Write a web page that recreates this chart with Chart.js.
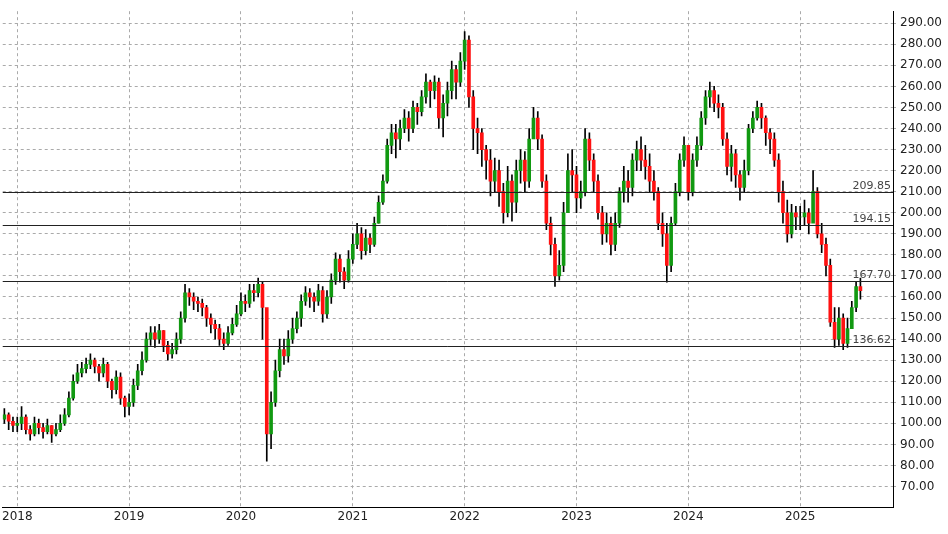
<!DOCTYPE html>
<html>
<head>
<meta charset="utf-8">
<script src="https://cdn.jsdelivr.net/npm/chart.js@4/dist/chart.umd.min.js"></script>
<style>
  html, body { margin: 0; padding: 0; background: #fff; }
  #wrap { width: 948px; height: 534px; }
</style>
</head>
<body>
<div id="wrap"><canvas id="chart"></canvas></div>
<script>
// biweekly candles, open = previous close
const startYear = 2017;
const startIndex = 23; // first candle sits late in 2017
const firstOpen = 102;

const closes = [
  104, 101, 99,
  100, 103, 97, 95, 100, 98, 96, 99, 95, 97, 100, 104, 112, 120, 124, 126, 128, 130, 127, 124, 128, 120, 116, 122, 112, 108,
  110, 118, 125, 130, 140, 143, 140, 144, 137, 133, 135, 140, 150, 162, 160, 158, 157, 155, 150, 147, 145, 140, 138, 143, 147, 152,
  158, 157, 163, 162, 166, 155, 95, 110, 125, 135, 132, 140, 145, 150, 158, 162, 160, 158, 163, 152, 160, 168, 178, 172, 168, 178,
  185, 190, 182, 188, 185, 195, 205, 215, 232, 238, 235, 240, 245, 240, 250, 248, 255, 262, 258, 262, 245, 252, 258, 268, 262, 272,
  282, 255, 240, 238, 230, 225, 215, 220, 210, 200, 215, 205, 220, 225, 215, 235, 245, 235, 215, 195, 185, 170, 175, 200, 220, 218,
  207, 210, 235, 225, 215, 200, 190, 195, 185, 195, 210, 215, 212, 225, 230, 225, 222, 215, 210, 195, 190, 175, 195, 210, 225, 232,
  210, 225, 232, 245, 255, 258, 252, 250, 235, 222, 228, 218, 212, 220, 240, 245, 250, 245, 238, 235, 225, 210, 200, 190, 200, 198,
  198, 200, 195, 210, 190, 185, 175, 148, 140, 150, 138, 145, 155, 165, 163
];
const highs = [
  107, 105, 103,
  103, 108, 104, 99, 103, 102, 100, 102, 99, 100, 104, 107, 115, 123, 128, 129, 131, 133, 131, 128, 131, 129, 121, 125, 124, 113,
  114, 121, 128, 134, 143, 146, 146, 147, 144, 139, 138, 143, 153, 166, 164, 162, 160, 159, 156, 152, 149, 147, 143, 146, 150, 156,
  162, 161, 166, 166, 169, 167, 150, 115, 130, 140, 140, 144, 150, 153, 161, 165, 164, 162, 166, 165, 163, 171, 181, 180, 174, 182,
  190, 195, 193, 192, 190, 198, 208, 218, 235, 242, 242, 244, 249, 248, 253, 252, 258, 266, 263, 265, 264, 256, 262, 272, 270, 276,
  286, 284, 258, 245, 240, 232, 230, 226, 225, 214, 222, 218, 225, 230, 229, 240, 250, 248, 237, 218, 198, 188, 182, 205, 228, 230,
  222, 215, 240, 238, 228, 218, 203, 200, 198, 200, 212, 222, 220, 228, 234, 236, 232, 228, 220, 212, 200, 195, 198, 214, 228, 236,
  228, 228, 236, 248, 258, 262, 260, 256, 252, 238, 232, 230, 220, 225, 242, 248, 253, 252, 246, 240, 238, 228, 215, 206, 204, 203,
  203, 206, 202, 220, 212, 195, 188, 178, 155, 155, 152, 150, 158, 167, 169
];
const lows = [
  100, 97, 96,
  96, 97, 95, 92, 94, 95, 93, 95, 91, 94, 96, 99, 103, 111, 119, 122, 124, 126, 124, 120, 122, 117, 112, 114, 109, 103,
  104, 108, 116, 123, 129, 137, 136, 138, 134, 130, 131, 133, 138, 148, 156, 154, 153, 151, 146, 143, 140, 137, 135, 137, 142, 146,
  151, 153, 155, 158, 160, 140, 82, 88, 108, 122, 128, 129, 138, 143, 146, 156, 155, 153, 156, 148, 150, 157, 166, 167, 164, 167,
  176, 183, 178, 180, 181, 184, 195, 204, 214, 228, 226, 230, 238, 234, 238, 242, 246, 252, 250, 254, 240, 236, 246, 254, 254, 260,
  268, 250, 230, 228, 222, 216, 208, 210, 203, 195, 198, 196, 200, 214, 210, 212, 236, 230, 212, 192, 180, 165, 168, 172, 200, 210,
  200, 202, 208, 220, 210, 197, 185, 186, 180, 182, 193, 205, 205, 208, 220, 220, 216, 210, 206, 192, 184, 167, 172, 194, 208, 222,
  206, 208, 222, 230, 242, 250, 248, 245, 232, 218, 215, 212, 206, 210, 218, 238, 244, 240, 232, 228, 222, 205, 195, 186, 188, 192,
  192, 194, 190, 196, 188, 181, 170, 146, 136, 137, 135, 136, 145, 153, 159
];
const levels = [209.85, 194.15, 167.70, 136.62];
const yearTicks = [2018, 2019, 2020, 2021, 2022, 2023, 2024, 2025];

const bodies = [], wicks = [], bodyColors = [];
closes.forEach((c, i) => {
  const x = startYear + (startIndex + i) / 26;
  const o = i === 0 ? firstOpen : closes[i - 1];
  bodies.push({ x: x, y: [o, c] });
  wicks.push({ x: x, y: [lows[i], highs[i]] });
  bodyColors.push(c >= o ? '#119911' : '#ff1111');
});

const levelLines = {
  id: 'levelLines',
  afterDatasetsDraw(chart) {
    const { ctx, chartArea, scales } = chart;
    ctx.save();
    levels.forEach(v => {
      const y = Math.round(scales.y.getPixelForValue(v)) + 0.5;
      ctx.strokeStyle = '#222';
      ctx.lineWidth = 1;
      ctx.beginPath();
      ctx.moveTo(chartArea.left, y);
      ctx.lineTo(chartArea.right, y);
      ctx.stroke();
      ctx.fillStyle = '#444';
      ctx.font = '11px "DejaVu Sans", sans-serif';
      ctx.textAlign = 'right';
      ctx.textBaseline = 'bottom';
      ctx.fillText(v.toFixed(2), chartArea.right - 2, y - 1);
    });
    ctx.restore();
  }
};

new Chart(document.getElementById('chart'), {
  type: 'bar',
  data: {
    datasets: [
      { data: wicks, backgroundColor: '#000', barThickness: 1, grouped: false, order: 2 },
      { data: bodies, backgroundColor: bodyColors, barThickness: 3, grouped: false, order: 1 }
    ]
  },
  options: {
    responsive: true,
    maintainAspectRatio: false,
    animation: false,
    layout: { padding: { top: 0, right: 2, left: 0, bottom: 8 } },
    plugins: { legend: { display: false }, tooltip: { enabled: false } },
    scales: {
      x: {
        type: 'linear',
        offset: false,
        min: 2017.87,
        max: 2025.83,
        afterBuildTicks: axis => { axis.ticks = yearTicks.map(v => ({ value: v })); },
        ticks: {
          callback: v => String(v),
          color: '#222',
          font: { family: '"DejaVu Sans", sans-serif', size: 12 },
          maxRotation: 0,
          padding: 2
        },
        grid: { color: '#aaa', offset: false, drawTicks: false },
        border: { color: '#000', dash: [3, 3] }
      },
      y: {
        position: 'right',
        min: 60,
        max: 295.7,
        afterBuildTicks: axis => {
          const t = [];
          for (let v = 70; v <= 290; v += 10) t.push({ value: v });
          axis.ticks = t;
        },
        ticks: {
          callback: v => Number(v).toFixed(2),
          color: '#222',
          font: { family: '"DejaVu Sans", sans-serif', size: 12 },
          padding: 4
        },
        grid: { color: '#aaa', drawTicks: true, tickLength: 3 },
        border: { color: '#000', dash: [3, 3] }
      }
    }
  },
  plugins: [levelLines]
});
</script>
</body>
</html>
